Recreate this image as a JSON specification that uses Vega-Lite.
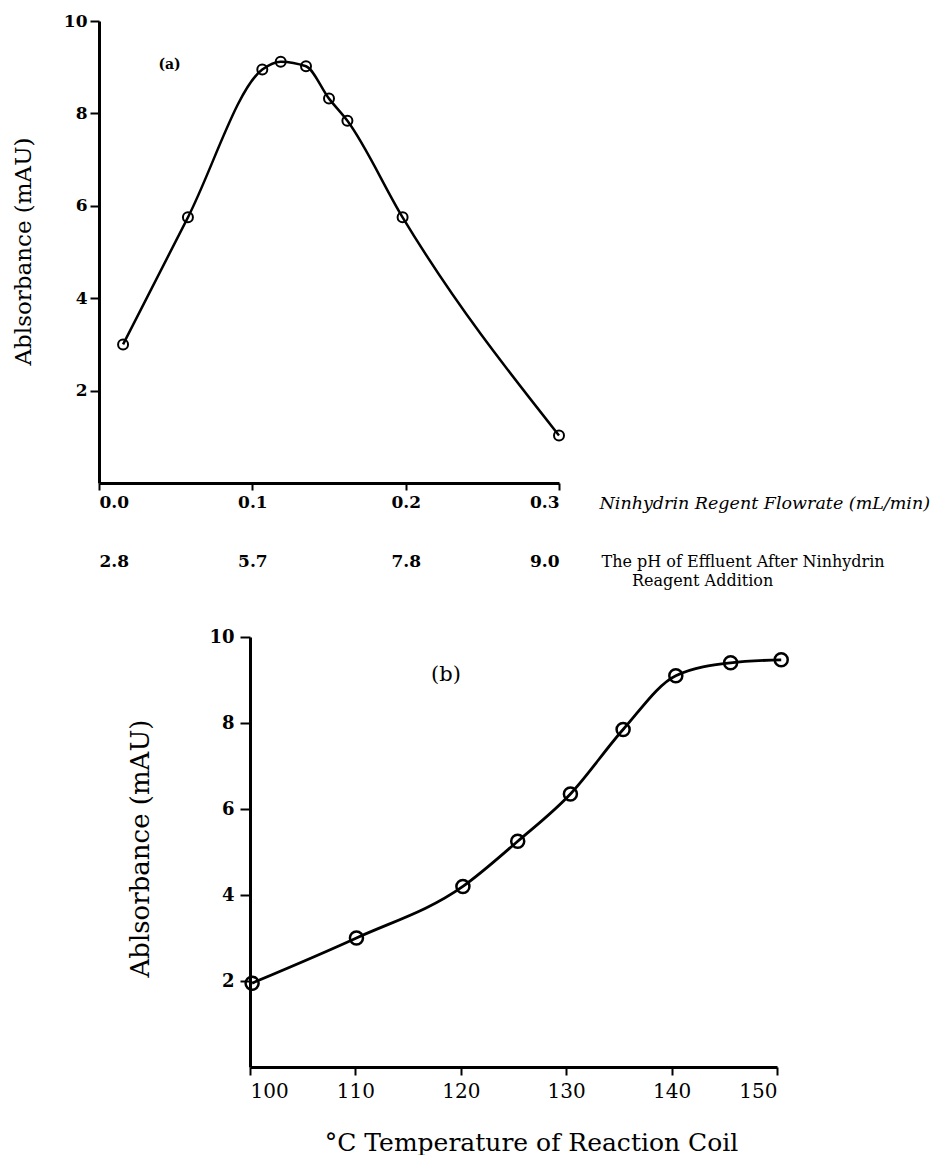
{
  "$schema": "https://vega.github.io/schema/vega-lite/v6.json",
  "background": "white",
  "padding": {"left": 12, "top": 12, "right": 0, "bottom": 0},
  "autosize": {"type": "pad"},
  "config": {
    "view": {"stroke": null},
    "font": "DejaVu Serif",
    "axis": {"grid": false, "domainColor": "black", "tickColor": "black", "labelColor": "black", "titleColor": "black", "domainWidth": 3, "tickWidth": 2, "labelFont": "DejaVu Serif", "titleFont": "DejaVu Serif", "titleFontWeight": "normal"}
  },
  "datasets": {
    "flow": [
      {"flow": 0.0157, "abs": 3.0},
      {"flow": 0.058, "abs": 5.75},
      {"flow": 0.1065, "abs": 8.95},
      {"flow": 0.1185, "abs": 9.12},
      {"flow": 0.135, "abs": 9.02},
      {"flow": 0.150, "abs": 8.32},
      {"flow": 0.162, "abs": 7.84},
      {"flow": 0.198, "abs": 5.75},
      {"flow": 0.300, "abs": 1.03}
    ],
    "temp": [
      {"temp": 100.2, "abs": 1.95},
      {"temp": 110.1, "abs": 3.0},
      {"temp": 120.2, "abs": 4.2},
      {"temp": 125.4, "abs": 5.25},
      {"temp": 130.4, "abs": 6.35},
      {"temp": 135.4, "abs": 7.85},
      {"temp": 140.4, "abs": 9.1},
      {"temp": 145.6, "abs": 9.4},
      {"temp": 150.4, "abs": 9.47}
    ],
    "labA": [{"flow": 0.046, "abs": 9.05, "label": "(a)"}],
    "labB": [{"temp": 118.6, "abs": 9.12, "label": "(b)"}]
  },
  "spacing": 40,
  "vconcat": [
    {
      "width": 460,
      "height": 462,
      "resolve": {"axis": {"x": "independent"}},
      "layer": [
        {
          "data": {"name": "flow"},
          "mark": {"type": "line", "interpolate": "monotone", "color": "black", "strokeWidth": 2.5},
          "encoding": {
            "x": {"field": "flow", "type": "quantitative", "scale": {"domain": [0, 0.3], "nice": false, "zero": false},
              "axis": {"orient": "bottom", "values": [0, 0.1, 0.2, 0.3], "format": ".1f", "labelFontSize": 17, "labelFontWeight": "bold", "tickSize": 7, "labelPadding": 4,
                "title": "Ninhydrin Regent Flowrate (mL/min)", "titleFontStyle": "italic", "titleFontSize": 17.5, "titleX": 500, "titleY": 20, "titleAlign": "left", "titleBaseline": "middle", "titleAngle": 0}},
            "y": {"field": "abs", "type": "quantitative", "scale": {"domain": [0, 10], "nice": false},
              "axis": {"values": [2, 4, 6, 8, 10], "labelFontSize": 17, "labelFontWeight": "bold", "tickSize": 9, "labelPadding": 3,
                "title": "Ablsorbance (mAU)", "titleFontSize": 23, "titleX": -76, "titleY": 230, "titleAngle": -90, "titleAlign": "center", "titleBaseline": "middle"}}
          }
        },
        {
          "data": {"name": "flow"},
          "mark": {"type": "point", "filled": false, "color": "black", "strokeWidth": 2, "size": 100, "opacity": 1},
          "encoding": {
            "x": {"field": "flow", "type": "quantitative",
              "axis": {"orient": "bottom", "offset": 67, "domain": false, "ticks": false, "values": [0, 0.1, 0.2, 0.3],
                "labelExpr": "datum.value < 0.05 ? '2.8' : datum.value < 0.15 ? '5.7' : datum.value < 0.25 ? '7.8' : '9.0'",
                "labelFontSize": 17, "labelFontWeight": "bold", "labelPadding": 3,
                "title": ["The pH of Effluent After Ninhydrin", "\u200b\u00a0\u00a0\u00a0\u00a0\u00a0\u00a0Reagent Addition"],
                "titleFontSize": 16, "titleLineHeight": 19, "titleX": 502, "titleY": 11, "titleAlign": "left", "titleBaseline": "middle", "titleAngle": 0}},
            "y": {"field": "abs", "type": "quantitative"}
          }
        },
        {
          "data": {"name": "labA"},
          "mark": {"type": "text", "fontSize": 14, "fontWeight": "bold", "color": "black", "font": "DejaVu Serif"},
          "encoding": {
            "x": {"field": "flow", "type": "quantitative", "axis": null},
            "y": {"field": "abs", "type": "quantitative"},
            "text": {"field": "label"}
          }
        }
      ]
    },
    {
      "spacing": 0,
      "hconcat": [
        {
          "width": 27,
          "height": 10,
          "data": {"values": []},
          "mark": {"type": "point", "opacity": 0},
          "encoding": {}
        },
        {
          "width": 527,
          "height": 430,
          "layer": [
            {
              "data": {"name": "temp"},
              "mark": {"type": "line", "interpolate": "monotone", "color": "black", "strokeWidth": 2.8},
              "encoding": {
                "x": {"field": "temp", "type": "quantitative", "scale": {"domain": [100, 150], "nice": false, "zero": false},
                  "axis": {"values": [100, 110, 120, 130, 140, 150], "labelFontSize": 20, "tickSize": 8, "labelPadding": 6,
                    "title": "°C Temperature of Reaction Coil", "titleFontSize": 25, "titleX": 281, "titleY": 75, "titleAlign": "center", "titleBaseline": "middle"}},
                "y": {"field": "abs", "type": "quantitative", "scale": {"domain": [0, 10], "nice": false},
                  "axis": {"values": [2, 4, 6, 8, 10], "labelFontSize": 18, "labelFontWeight": "bold", "tickSize": 10, "labelPadding": 6,
                    "title": "Ablsorbance (mAU)", "titleFontSize": 26, "titleX": -110, "titleY": 211, "titleAngle": -90, "titleAlign": "center", "titleBaseline": "middle"}}
              }
            },
            {
              "data": {"name": "temp"},
              "mark": {"type": "point", "filled": false, "color": "black", "strokeWidth": 2.5, "size": 170, "opacity": 1},
              "encoding": {
                "x": {"field": "temp", "type": "quantitative"},
                "y": {"field": "abs", "type": "quantitative"}
              }
            },
            {
              "data": {"name": "labB"},
              "mark": {"type": "text", "fontSize": 21, "color": "black", "font": "DejaVu Serif"},
              "encoding": {
                "x": {"field": "temp", "type": "quantitative"},
                "y": {"field": "abs", "type": "quantitative"},
                "text": {"field": "label"}
              }
            }
          ]
        }
      ]
    }
  ]
}
